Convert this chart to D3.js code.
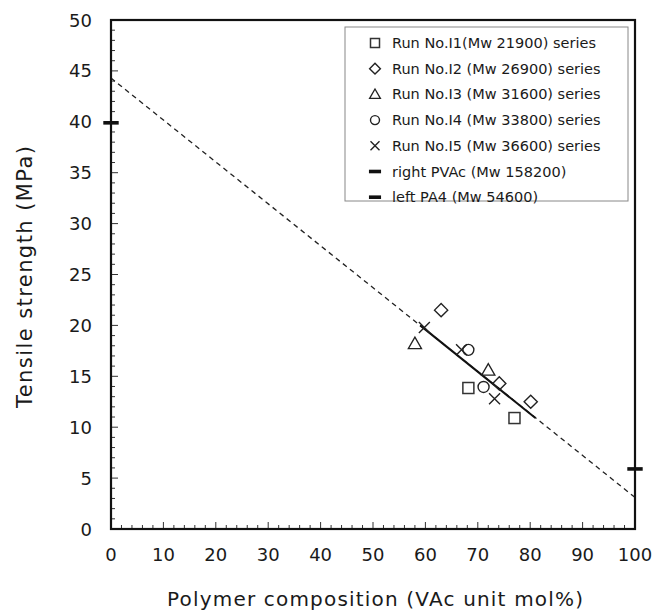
<!DOCTYPE html>
<html><head><meta charset="utf-8">
<script src="https://cdn.jsdelivr.net/npm/d3@7"></script>
<style>body{margin:0;background:#fff}svg{display:block}text{font-family:"DejaVu Sans",Verdana,sans-serif;fill:#1a1a1a}</style>
</head><body>
<script>
// ---- data ----
const xTicks = [0,10,20,30,40,50,60,70,80,90,100];
const yTicks = [0,5,10,15,20,25,30,35,40,45,50];
const seriesNames = ["Run No.I1(Mw 21900) series","Run No.I2 (Mw 26900) series","Run No.I3 (Mw 31600) series","Run No.I4 (Mw 33800) series","Run No.I5 (Mw 36600) series","right PVAc (Mw 158200)","left PA4 (Mw 54600)"];
const seriesSymbols = ["square","diamond","triangle","circle","cross","bar","bar"];
const i1 = [[68.2,13.85],[77.0,10.9]];
const i2 = [[63.0,21.5],[74.1,14.3],[80.1,12.5]];
const i3 = [[58.0,18.2],[72.0,15.6]];
const i4 = [[68.2,17.6],[71.1,13.95]];
const i5 = [[59.8,19.8],[66.9,17.6],[73.2,12.8]];
const pvac = [[100,5.9]];
const pa4 = [[0,39.9]];
const dashedFit = [[0,44.3],[100,3.1]];
const solidFit = [[59,20.0],[81,10.9]];

const W=654,H=612;
const m={l:111,r:635,t:20,b:529};
const x=d3.scaleLinear().domain([0,100]).range([m.l,m.r]);
const y=d3.scaleLinear().domain([0,50]).range([m.b,m.t]);
const svg=d3.select("body").append("svg").attr("width",W).attr("height",H);

// minor ticks
const g=svg.append("g");
g.selectAll(".xt").data(d3.range(0,101,2)).join("line")
 .attr("x1",d=>x(d)).attr("x2",d=>x(d)).attr("y1",m.b).attr("y2",d=>m.b-(d%10===0?7:4))
 .attr("stroke","#333").attr("stroke-width",1);
g.selectAll(".yt").data(d3.range(0,51,1)).join("line")
 .attr("y1",d=>y(d)).attr("y2",d=>y(d)).attr("x1",m.l).attr("x2",d=>m.l+(d%5===0?7:4))
 .attr("stroke","#333").attr("stroke-width",1);

// tick labels
svg.selectAll(".xl").data(xTicks).join("text").attr("x",d=>x(d)).attr("y",561)
 .attr("text-anchor","middle").attr("font-size",18).text(d=>d);
svg.selectAll(".yl").data(yTicks).join("text").attr("x",92).attr("y",d=>y(d)+6.5)
 .attr("text-anchor","end").attr("font-size",18).text(d=>d);

// fit lines
const line=d3.line().x(d=>x(d[0])).y(d=>y(d[1]));
svg.append("path").attr("d",line(dashedFit)).attr("fill","none").attr("stroke","#222").attr("stroke-width",1.3).attr("stroke-dasharray","5,4");
svg.append("path").attr("d",line(solidFit)).attr("fill","none").attr("stroke","#111").attr("stroke-width",2);

// frame
svg.append("rect").attr("x",m.l).attr("y",m.t).attr("width",m.r-m.l).attr("height",m.b-m.t)
 .attr("fill","none").attr("stroke","#111").attr("stroke-width",2.2);

// markers
function sym(sel,type,s){
  if(type==="square") return sel.append("rect").attr("x",-s/2).attr("y",-s/2).attr("width",s).attr("height",s).attr("fill","none").attr("stroke","#333").attr("stroke-width",1.5);
  if(type==="diamond") return sel.append("path").attr("d",`M0,${-s*0.6}L${s*0.6},0L0,${s*0.6}L${-s*0.6},0Z`).attr("fill","none").attr("stroke","#222").attr("stroke-width",1.4);
  if(type==="triangle") return sel.append("path").attr("d",`M0,${-s*0.6}L${s*0.6},${s*0.45}L${-s*0.6},${s*0.45}Z`).attr("fill","none").attr("stroke","#222").attr("stroke-width",1.3);
  if(type==="circle") return sel.append("circle").attr("r",s*0.5).attr("fill","none").attr("stroke","#222").attr("stroke-width",1.4);
  if(type==="cross") return sel.append("path").attr("d",`M${-s/2},${-s/2}L${s/2},${s/2}M${s/2},${-s/2}L${-s/2},${s/2}`).attr("fill","none").attr("stroke","#222").attr("stroke-width",1.4);
  if(type==="bar") return sel.append("rect").attr("x",-s*0.55).attr("y",-1.8).attr("width",s*1.1).attr("height",3.6).attr("fill","#111");
}
const pts=[[i1,"square"],[i2,"diamond"],[i3,"triangle"],[i4,"circle"],[i5,"cross"],[pvac,"bar"],[pa4,"bar"]];
pts.forEach(([data,t])=>{
  data.forEach(d=>{const gg=svg.append("g").attr("transform",`translate(${x(d[0])},${y(d[1])})`);sym(gg,t,t==="bar"?14:11);});
});

// legend
const lg=svg.append("g");
lg.append("rect").attr("x",345).attr("y",27).attr("width",283).attr("height",174).attr("fill","#fff").attr("stroke","#888").attr("stroke-width",1);
seriesNames.forEach((n,i)=>{
  const yy=43+i*25.7;
  const gg=lg.append("g").attr("transform",`translate(375,${yy})`);
  sym(gg,seriesSymbols[i],seriesSymbols[i]==="bar"?11:9);
  lg.append("text").attr("x",392).attr("y",yy+5).attr("font-size",14.5).text(n);
});

// axis titles
svg.append("text").attr("x",375).attr("y",606).attr("text-anchor","middle").attr("font-size",20)
 .attr("textLength",416).attr("lengthAdjust","spacing").text("Polymer composition (VAc unit mol%)");
svg.append("text").attr("transform","translate(32,277) rotate(-90)").attr("text-anchor","middle").attr("font-size",21)
 .attr("textLength",262).attr("lengthAdjust","spacing").text("Tensile strength (MPa)");
</script>
</body></html>
